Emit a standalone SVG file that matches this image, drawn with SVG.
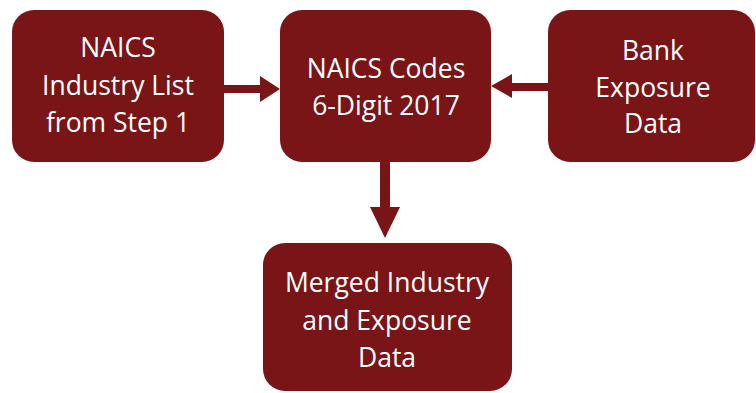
<svg xmlns="http://www.w3.org/2000/svg" width="756" height="393" viewBox="0 0 756 393">
  <style>
    .box { fill: #7a1517; }
    .lbl { fill: #ffffff; font-family: "Open Sans", "Noto Sans", "Liberation Sans", sans-serif; font-size: 26.5px; text-anchor: middle; }
    .conn { fill: #7a1517; }
  </style>
  <rect width="756" height="393" fill="#ffffff"/>

  <g id="connectors">
    <!-- industry list -> NAICS codes -->
    <path class="conn" d="M224,85 H260 V76 L280,89 L260,102 V93 H224 Z"/>
    <!-- bank exposure -> NAICS codes -->
    <path class="conn" d="M548,83 H512 V74 L491,86 L512,98 V91 H548 Z"/>
    <!-- NAICS codes -> merged data -->
    <path class="conn" d="M380,162 V207 H370 L385,238 L400,207 H390 V162 Z"/>
  </g>

  <g id="industry-list">
    <rect class="box" x="12" y="10" width="212" height="152" rx="22"/>
    <text class="lbl" x="118" y="57">NAICS</text>
    <text class="lbl" x="118" y="95">Industry List</text>
    <text class="lbl" x="118" y="132">from Step 1</text>
  </g>

  <g id="naics-codes">
    <rect class="box" x="280" y="10" width="211" height="152" rx="22"/>
    <text class="lbl" x="386" y="78">NAICS Codes</text>
    <text class="lbl" x="386" y="115">6-Digit 2017</text>
  </g>

  <g id="bank-exposure">
    <rect class="box" x="548" y="10" width="207" height="152" rx="22"/>
    <text class="lbl" x="653" y="60">Bank</text>
    <text class="lbl" x="653" y="97">Exposure</text>
    <text class="lbl" x="653" y="133">Data</text>
  </g>

  <g id="merged-data">
    <rect class="box" x="263" y="243" width="249" height="148" rx="22"/>
    <text class="lbl" x="387" y="292">Merged Industry</text>
    <text class="lbl" x="387" y="330">and Exposure</text>
    <text class="lbl" x="387" y="367">Data</text>
  </g>
</svg>
